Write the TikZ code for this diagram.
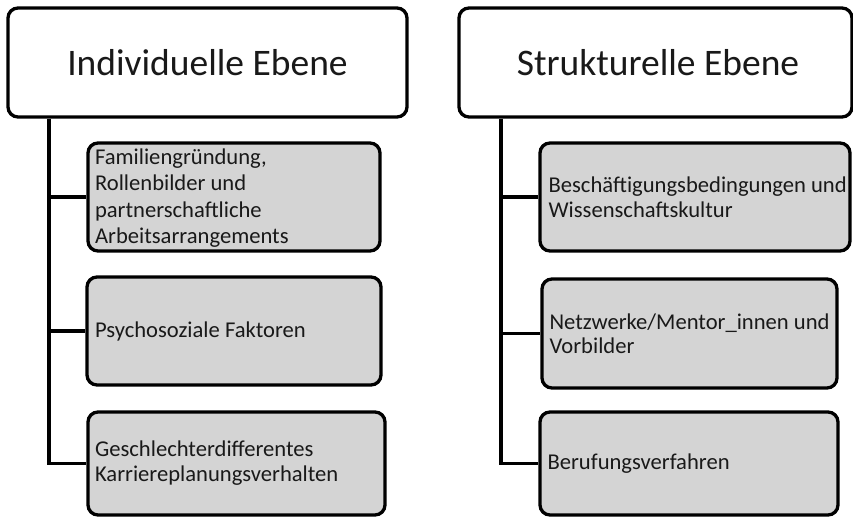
\documentclass[tikz,border=0pt]{standalone}
\usepackage{fontspec}
\setmainfont{Carlito}
\definecolor{boxgray}{RGB}{212,212,212}
\definecolor{txt}{RGB}{25,25,25}
\begin{document}
\begin{tikzpicture}[x=1pt,y=-1pt,
  hdr/.style={draw=black, line width=3.3pt, rounded corners=10pt, fill=white, inner sep=0pt},
  sub/.style={draw=black, line width=3.3pt, rounded corners=10pt, fill=boxgray, inner sep=0pt},
  htxt/.style={text=txt, font=\fontsize{37.5}{44}\selectfont, inner sep=0pt},
  btxt/.style={text=txt, font=\fontsize{22.6}{25}\selectfont, align=left, inner sep=0pt, anchor=west},
  conn/.style={draw=black, line width=3.3pt}]
\useasboundingbox (0,0) rectangle (853,518);
% headers
\node[hdr, minimum width=399pt, minimum height=109pt] (LH) at (207.5,62.5) {};
\node[htxt] (LHt) at (LH.center) {Individuelle Ebene};
\node[hdr, minimum width=393pt, minimum height=109pt] (RH) at (655.5,62.5) {};
\node[htxt] (RHt) at ([xshift=2.5pt]RH.center) {Strukturelle Ebene};
% left boxes
\node[sub, minimum width=292pt, minimum height=108pt] (L1) at (234,197) {};
\node[sub, minimum width=294pt, minimum height=108pt] (L2) at (234,331) {};
\node[sub, minimum width=297pt, minimum height=103pt] (L3) at (236.5,463.5) {};
% right boxes
\node[sub, minimum width=310pt, minimum height=108pt] (R1) at (695,197) {};
\node[sub, minimum width=295pt, minimum height=109pt] (R2) at (689.5,333.5) {};
\node[sub, minimum width=298pt, minimum height=103pt] (R3) at (689,463.5) {};
% texts
\node[btxt, font=\fontsize{22.6}{26.4}\selectfont] (L1t) at ([xshift=8.5pt,yshift=-1pt]L1.west) {Familiengründung,\\Rollenbilder und\\partnerschaftliche\\Arbeitsarrangements};
\node[btxt] (L2t) at ([xshift=9.5pt]L2.west) {Psychosoziale Faktoren};
\node[btxt] (L3t) at ([xshift=8.5pt]L3.west) {Geschlechterdifferentes\\Karriereplanungsverhalten};
\node[btxt, font=\fontsize{22.6}{24.5}\selectfont] (R1t) at ([xshift=10pt]R1.west) {Beschäftigungsbedingungen und\\Wissenschaftskultur};
\node[btxt, font=\fontsize{22.6}{23.5}\selectfont] (R2t) at ([xshift=9pt]R2.west) {Netzwerke/Mentor\_innen und\\Vorbilder};
\node[btxt] (R3t) at ([xshift=9pt]R3.west) {Berufungsverfahren};
% connectors
\coordinate (lt) at (49,117);
\coordinate (rt) at (501,117);
\draw[conn] (LH.south -| lt) |- (L3.west);
\draw[conn] (lt |- L1.west) -- (L1.west);
\draw[conn] (lt |- L2.west) -- (L2.west);
\draw[conn] (RH.south -| rt) |- (R3.west);
\draw[conn] (rt |- R1.west) -- (R1.west);
\draw[conn] (rt |- R2.west) -- (R2.west);
\end{tikzpicture}
\end{document}
